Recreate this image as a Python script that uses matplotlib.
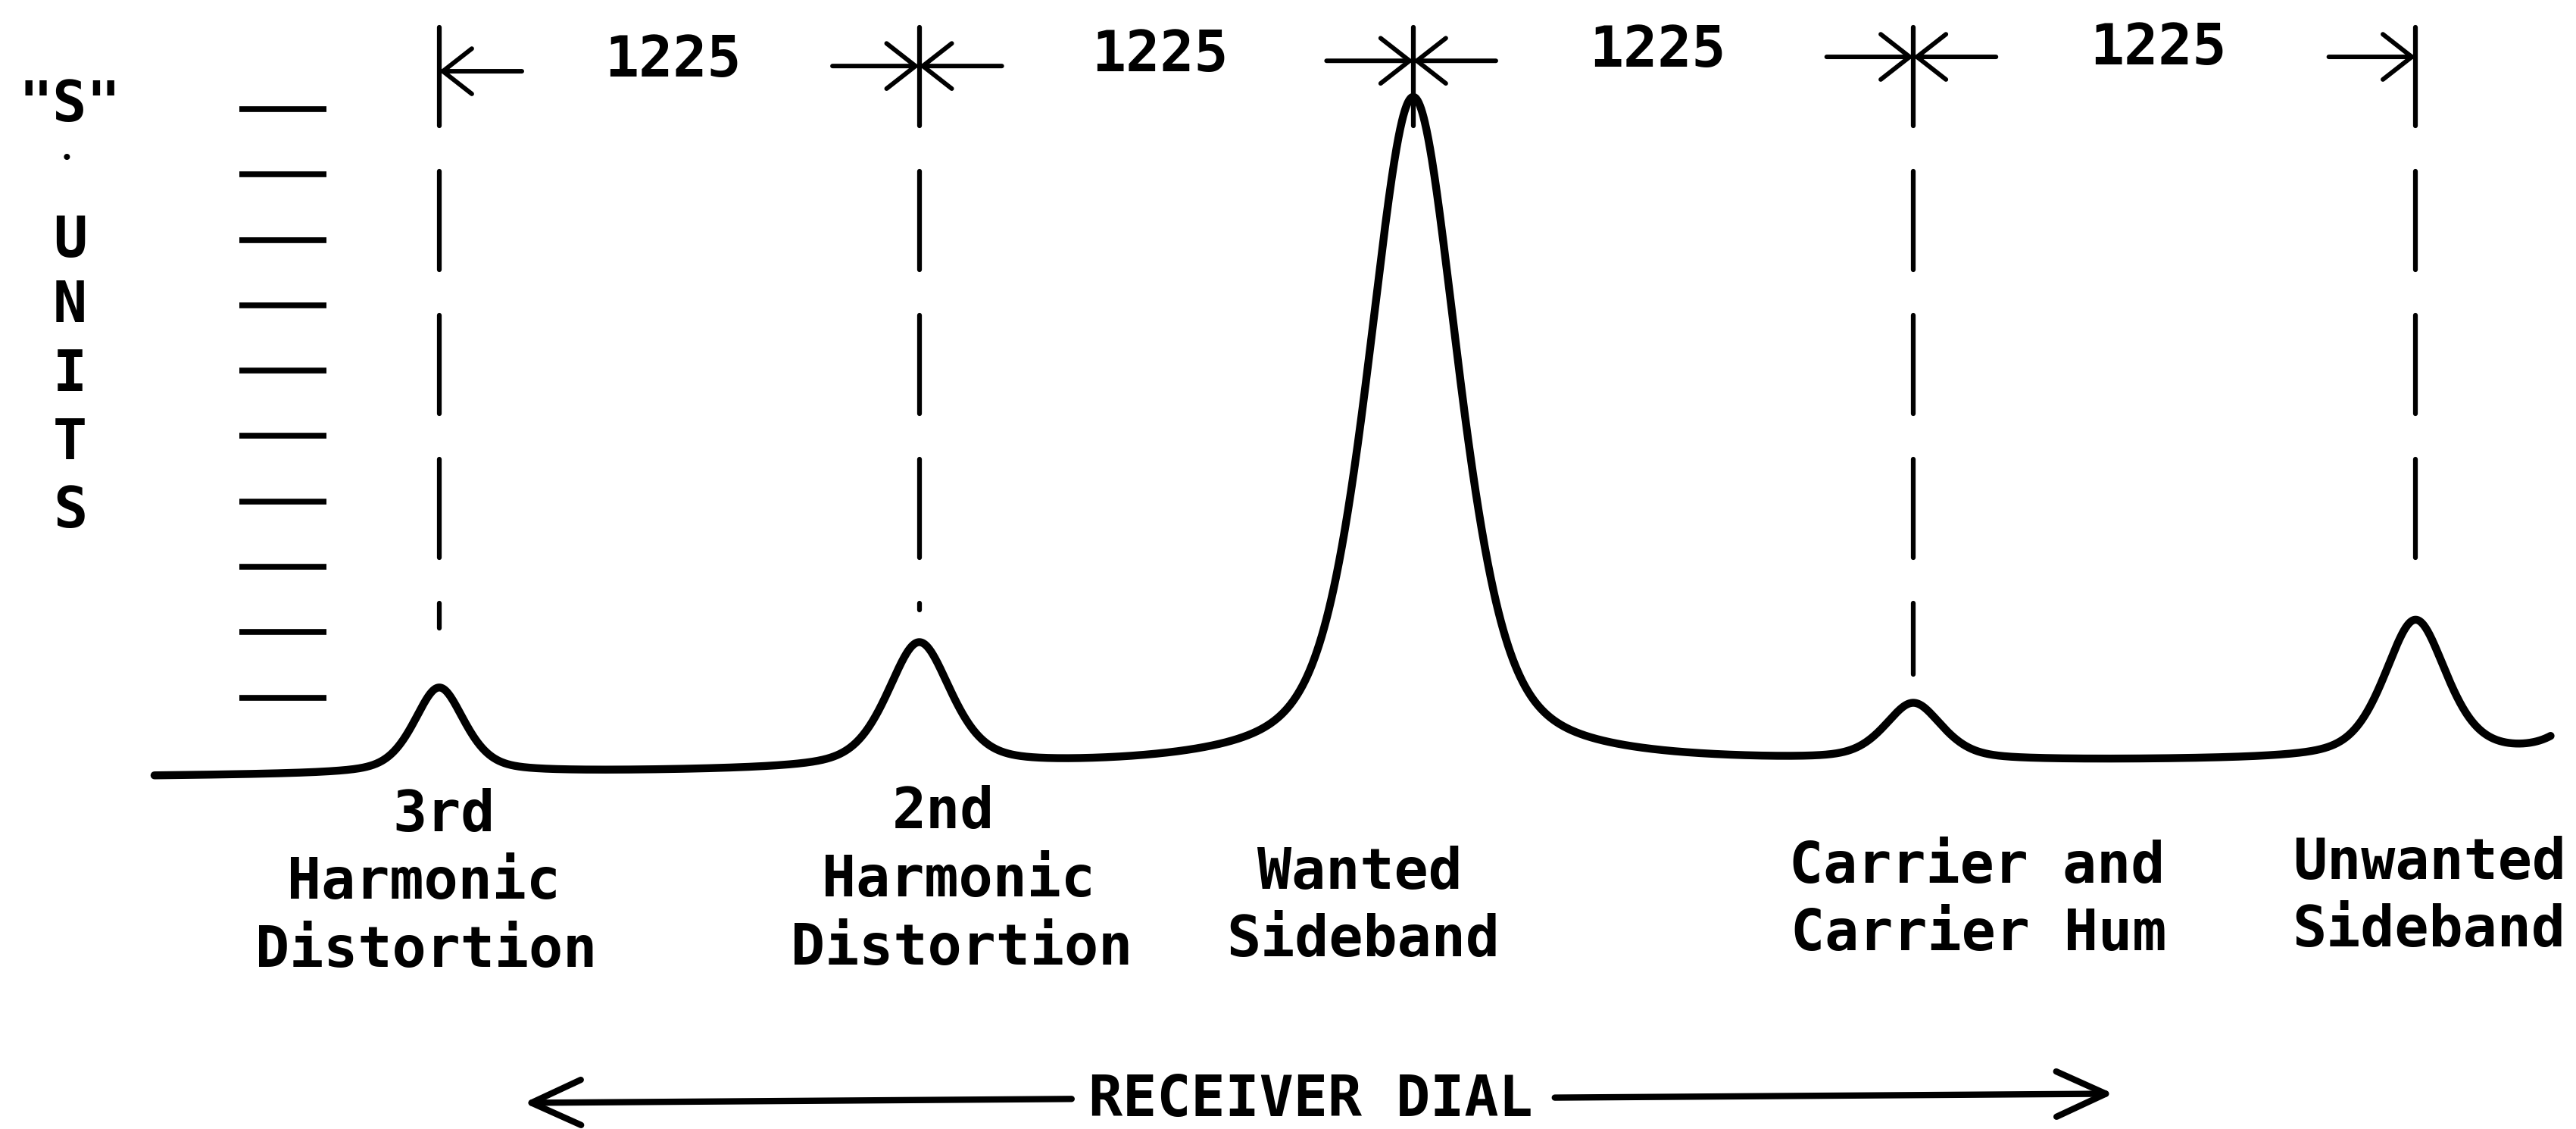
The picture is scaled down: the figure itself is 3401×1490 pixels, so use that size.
import numpy as np
import matplotlib
matplotlib.use('Agg')
import matplotlib.pyplot as plt

# responses: dial position (Hz) and height (S units)
peak_hz = [0, 1190, 2415, 3655, 4900]
peak_height = [1.31, 1.91, 10.25, 0.87, 2.11]
peak_width = [150, 188, 267, 169, 184]      # full width at half height, Hz
# next response just past the right edge, only its rising flank shows
edge_hz = 5410
edge_height = 1.39
edge_width = 207
# the trace baseline drifts a little from left to right
trace_start, trace_end = -706, 5235
base_start, base_end = -0.21, 0.05

spacing_labels = ['1225', '1225', '1225', '1225']
s_unit_ticks = [1, 2, 3, 4, 5, 6, 7, 8, 9, 10]
peak_labels = [['3rd', 'Harmonic', 'Distortion'],
               ['2nd', 'Harmonic', 'Distortion'],
               ['Wanted', 'Sideband'],
               ['Carrier and', 'Carrier Hum'],
               ['Unwanted', 'Sideband']]
axis_title = 'RECEIVER DIAL'
unit_label = ['"S"', 'U', 'N', 'I', 'T', 'S']


def response(x, centre, height, width):
    # half lorentzian, half gaussian
    u = (x - centre) / (width / 2)
    return height * (0.5 / (1 + u ** 2) + 0.5 * np.exp(-np.log(2) * u ** 2))


def draw_plot():
    fig = plt.figure(figsize=(34.01, 14.90), dpi=100)
    ax = fig.add_axes([0, 0, 1, 1])
    ax.set_xlim(-1089, 5298)
    ax.set_ylim(-5.6, 11.67)
    ax.axis('off')

    font = dict(family='DejaVu Sans Mono', weight='bold', size=54, color='black')

    # the receiver trace
    x = np.linspace(trace_start, trace_end, 4000)
    y = base_start + (base_end - base_start) * (x - trace_start) / (trace_end - trace_start)
    for c, h, w in zip(peak_hz, peak_height, peak_width):
        y = y + response(x, c, h, w)
    y = y + response(x, edge_hz, edge_height, edge_width)
    ax.plot(x, y, color='black', lw=7.5, solid_capstyle='round', solid_joinstyle='round')

    # S-meter scale marks
    ax.hlines(s_unit_ticks, -496, -280, color='black', lw=5.5)

    # dashed markers over each response
    base_at = lambda v: base_start + (base_end - base_start) * (v - trace_start) / (trace_end - trace_start)
    marker_y = [10.58, 10.66, 10.74, 10.80, 10.80]
    marker_gap = [0.93, 0.56, -0.45, 0.5, 0.6]
    for c, h, g in zip(peak_hz, peak_height, marker_gap):
        ax.plot([c, c], [11.25, base_at(c) + h + g], color='black', lw=4.5,
                dashes=(20.8, 9.6), dash_capstyle='round')

    # 1225 spacing arrows between markers
    arrow = dict(arrowstyle='->,head_length=0.55,head_width=0.43', lw=4.3,
                 color='black', shrinkA=0, shrinkB=0, mutation_scale=50)
    for i, lab in enumerate(spacing_labels):
        x0, x1 = peak_hz[i], peak_hz[i + 1]
        ax.annotate('', xy=(x0, marker_y[i]), xytext=(x0 + 205, marker_y[i]), arrowprops=arrow)
        ax.annotate('', xy=(x1, marker_y[i + 1]), xytext=(x1 - 215, marker_y[i + 1]), arrowprops=arrow)
        ax.text((x0 + x1) / 2 - 15, (marker_y[i] + marker_y[i + 1]) / 2 + 0.12, lab,
                ha='center', va='center', **font)

    # labels under each response, one text per typed line
    label_x = [[11, -38, -32], [1249, 1287, 1296], [2282, 2291], [3813, 3817], [4934, 4934]]
    label_y = [-1.04, -1.00, -1.92, -1.83, -1.77]
    for lines, xs, ly in zip(peak_labels, label_x, label_y):
        for k, (line, lx) in enumerate(zip(lines, xs)):
            ax.text(lx, ly - 1.04 * k, line, ha='center', va='baseline', **font)

    # "S" UNITS written down the left side
    unit_y = [10.05, 7.98, 6.98, 5.93, 4.88, 3.84]
    for ch, uy in zip(unit_label, unit_y):
        ax.text(-915, uy, ch, ha='center', va='center', **font)
    ax.text(-924, 9.25, '\u2022', ha='center', va='center',
            family='DejaVu Sans Mono', size=20, color='black')

    # receiver dial arrow
    dial = dict(arrowstyle='->,head_length=0.94,head_width=0.43', lw=6,
                color='black', shrinkA=0, shrinkB=0, mutation_scale=50)
    ax.annotate('', xy=(210, -5.2), xytext=(1568, -5.14), arrowprops=dial)
    ax.annotate('', xy=(4151, -5.06), xytext=(2766, -5.12), arrowprops=dial)
    ax.text(2160, -5.17, axis_title, ha='center', va='center', **font)

    fig.savefig('out.png', dpi=100, facecolor='white')
    return ax


if __name__ == "__main__":
    draw_plot()
